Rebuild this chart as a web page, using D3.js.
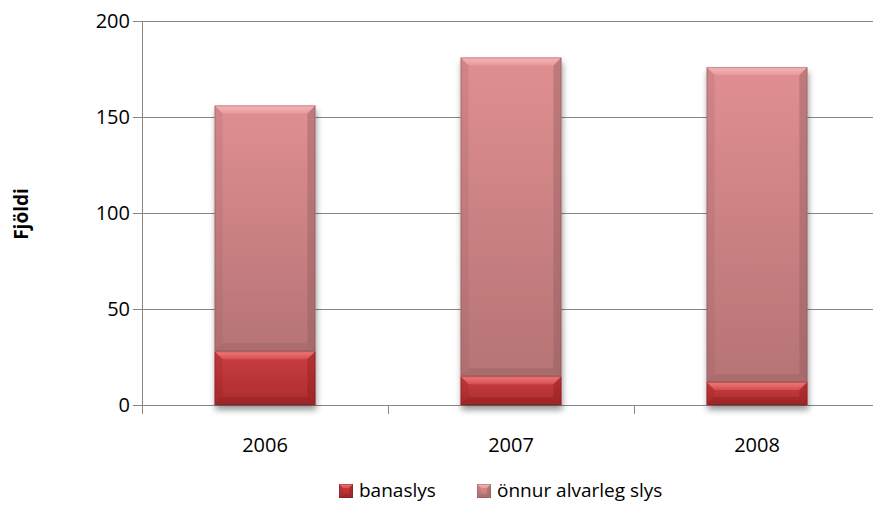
<!DOCTYPE html>
<html>
<head>
<meta charset="utf-8">
<script src="https://cdn.jsdelivr.net/npm/d3@7/dist/d3.min.js"></script>
<style>
  body { margin: 0; background: #fff; }
  svg { display: block; font-family: "Open Sans", sans-serif; }
</style>
</head>
<body>
<div id="chart"></div>
<script>
// data
const years = ['2006', '2007', '2008'];
const banaslys = [28, 15, 12];
const onnur = [128, 166, 164];
const seriesNames = ['banaslys', 'önnur alvarleg slys'];
const yTicks = [0, 50, 100, 150, 200];

const width = 873, height = 514;
const plotLeft = 142, plotRight = 880, plotTop = 21, plotBottom = 405;

const svg = d3.select('#chart').append('svg')
    .attr('width', width)
    .attr('height', height);

const defs = svg.append('defs');

// drop shadow under bars
const shadow = defs.append('filter').attr('id', 'shadow')
    .attr('x', '-20%').attr('y', '-20%').attr('width', '140%').attr('height', '140%');
shadow.append('feGaussianBlur').attr('in', 'SourceAlpha').attr('stdDeviation', 3);
shadow.append('feOffset').attr('dx', 1).attr('dy', 5).attr('result', 'off');
shadow.append('feComponentTransfer').append('feFuncA').attr('type', 'linear').attr('slope', 0.4);
const merge = shadow.append('feMerge');
merge.append('feMergeNode');
merge.append('feMergeNode').attr('in', 'SourceGraphic');

function vGrad(id, c1, c2) {
    const g = defs.append('linearGradient').attr('id', id)
        .attr('x1', 0).attr('y1', 0).attr('x2', 0).attr('y2', 1);
    g.append('stop').attr('offset', '0%').attr('stop-color', c1);
    g.append('stop').attr('offset', '100%').attr('stop-color', c2);
}
vGrad('pinkFill', '#e08f91', '#b67475');
vGrad('redFill', '#c93f41', '#ac2b2e');
vGrad('pinkTop', '#f7b6b6', '#e69a9b');
vGrad('redTop', '#f07a7a', '#d54f50');

const palette = [
    { fill: 'url(#redFill)', topB: 'url(#redTop)', sideB: '#8c1e21', botB: '#7f1b1e', edge: '#7d1c1e' },
    { fill: 'url(#pinkFill)', topB: 'url(#pinkTop)', sideB: '#8f5b5d', botB: '#8e5a5b', edge: '#7e5456' }
];

const y = d3.scaleLinear().domain([0, 200]).range([plotBottom, plotTop]);
const x = d3.scaleBand().domain(years).range([plotLeft, plotRight])
    .paddingInner(0.59).paddingOuter(0.295);

// gridlines
svg.append('g')
    .selectAll('line')
    .data(yTicks)
    .enter().append('line')
    .attr('x1', plotLeft - 9)
    .attr('x2', width)
    .attr('y1', d => Math.round(y(d)) + 0.5)
    .attr('y2', d => Math.round(y(d)) + 0.5)
    .style('stroke', '#868686')
    .style('stroke-width', 1);

// y axis line
svg.append('line')
    .attr('x1', plotLeft + 0.5).attr('x2', plotLeft + 0.5)
    .attr('y1', y(200)).attr('y2', y(0) + 9)
    .style('stroke', '#868686');

// category separators on x axis
const sep = [plotLeft, x(years[1]) - x.step() * 0.59 / 2, x(years[2]) - x.step() * 0.59 / 2];
svg.append('g').selectAll('line')
    .data(sep)
    .enter().append('line')
    .attr('x1', d => Math.round(d) + 0.5)
    .attr('x2', d => Math.round(d) + 0.5)
    .attr('y1', y(0))
    .attr('y2', y(0) + 9)
    .style('stroke', '#868686');

// y tick labels
svg.append('g').selectAll('text')
    .data(yTicks)
    .enter().append('text')
    .attr('x', plotLeft - 12)
    .attr('y', d => y(d))
    .attr('dy', '0.35em')
    .attr('text-anchor', 'end')
    .style('font-size', '20px')
    .style('fill', '#000')
    .text(d => d);

// x tick labels
svg.append('g').selectAll('text')
    .data(years)
    .enter().append('text')
    .attr('x', d => x(d) + x.bandwidth() / 2)
    .attr('y', 452)
    .attr('text-anchor', 'middle')
    .style('font-size', '20px')
    .text(d => d);

// axis title
svg.append('text')
    .attr('transform', 'translate(28,214) rotate(-90)')
    .attr('text-anchor', 'middle')
    .style('font-size', '19px')
    .style('font-weight', 'bold')
    .text('Fjöldi');

// bevelled box helper
function bevelBox(g, x0, y0, w, h, p, b) {
    b = Math.min(b, h / 2);
    g.append('rect').attr('x', x0).attr('y', y0).attr('width', w).attr('height', h)
        .style('fill', p.fill);
    g.append('path')
        .attr('d', `M${x0},${y0}L${x0 + w},${y0}L${x0 + w - b},${y0 + b}L${x0 + b},${y0 + b}Z`)
        .style('fill', p.topB);
    g.append('path')
        .attr('d', `M${x0},${y0}L${x0 + b},${y0 + b}L${x0 + b},${y0 + h - b}L${x0},${y0 + h}Z`)
        .style('fill', p.sideB).style('opacity', 0.18);
    g.append('path')
        .attr('d', `M${x0 + w},${y0}L${x0 + w - b},${y0 + b}L${x0 + w - b},${y0 + h - b}L${x0 + w},${y0 + h}Z`)
        .style('fill', p.sideB).style('opacity', 0.4);
    g.append('path')
        .attr('d', `M${x0},${y0 + h}L${x0 + b},${y0 + h - b}L${x0 + w - b},${y0 + h - b}L${x0 + w},${y0 + h}Z`)
        .style('fill', p.botB).style('opacity', 0.3);
    g.append('rect').attr('x', x0 + 0.5).attr('y', y0 + 0.5).attr('width', w - 1).attr('height', h - 1)
        .style('fill', 'none').style('stroke', p.edge).style('stroke-opacity', 0.4);
}

// bars
const stack = years.map((yr, i) => ({ yr, vals: [banaslys[i], onnur[i]] }));
const bars = svg.append('g');
stack.forEach(d => {
    const g = bars.append('g').attr('filter', 'url(#shadow)');
    let base = 0;
    d.vals.forEach((v, k) => {
        const y1 = y(base + v), y0 = y(base);
        bevelBox(g, x(d.yr), y1, x.bandwidth(), y0 - y1, palette[k], 8);
        base += v;
    });
});

// legend
const legendX = [339, 477];
const legend = svg.append('g');
seriesNames.forEach((name, k) => {
    const g = legend.append('g');
    bevelBox(g, legendX[k], 484, 14, 14, palette[k], 4);
    g.append('text')
        .attr('x', legendX[k] + 20)
        .attr('y', 490)
        .attr('dy', '0.35em')
        .style('font-size', '19px')
        .text(name);
});
</script>
</body>
</html>
